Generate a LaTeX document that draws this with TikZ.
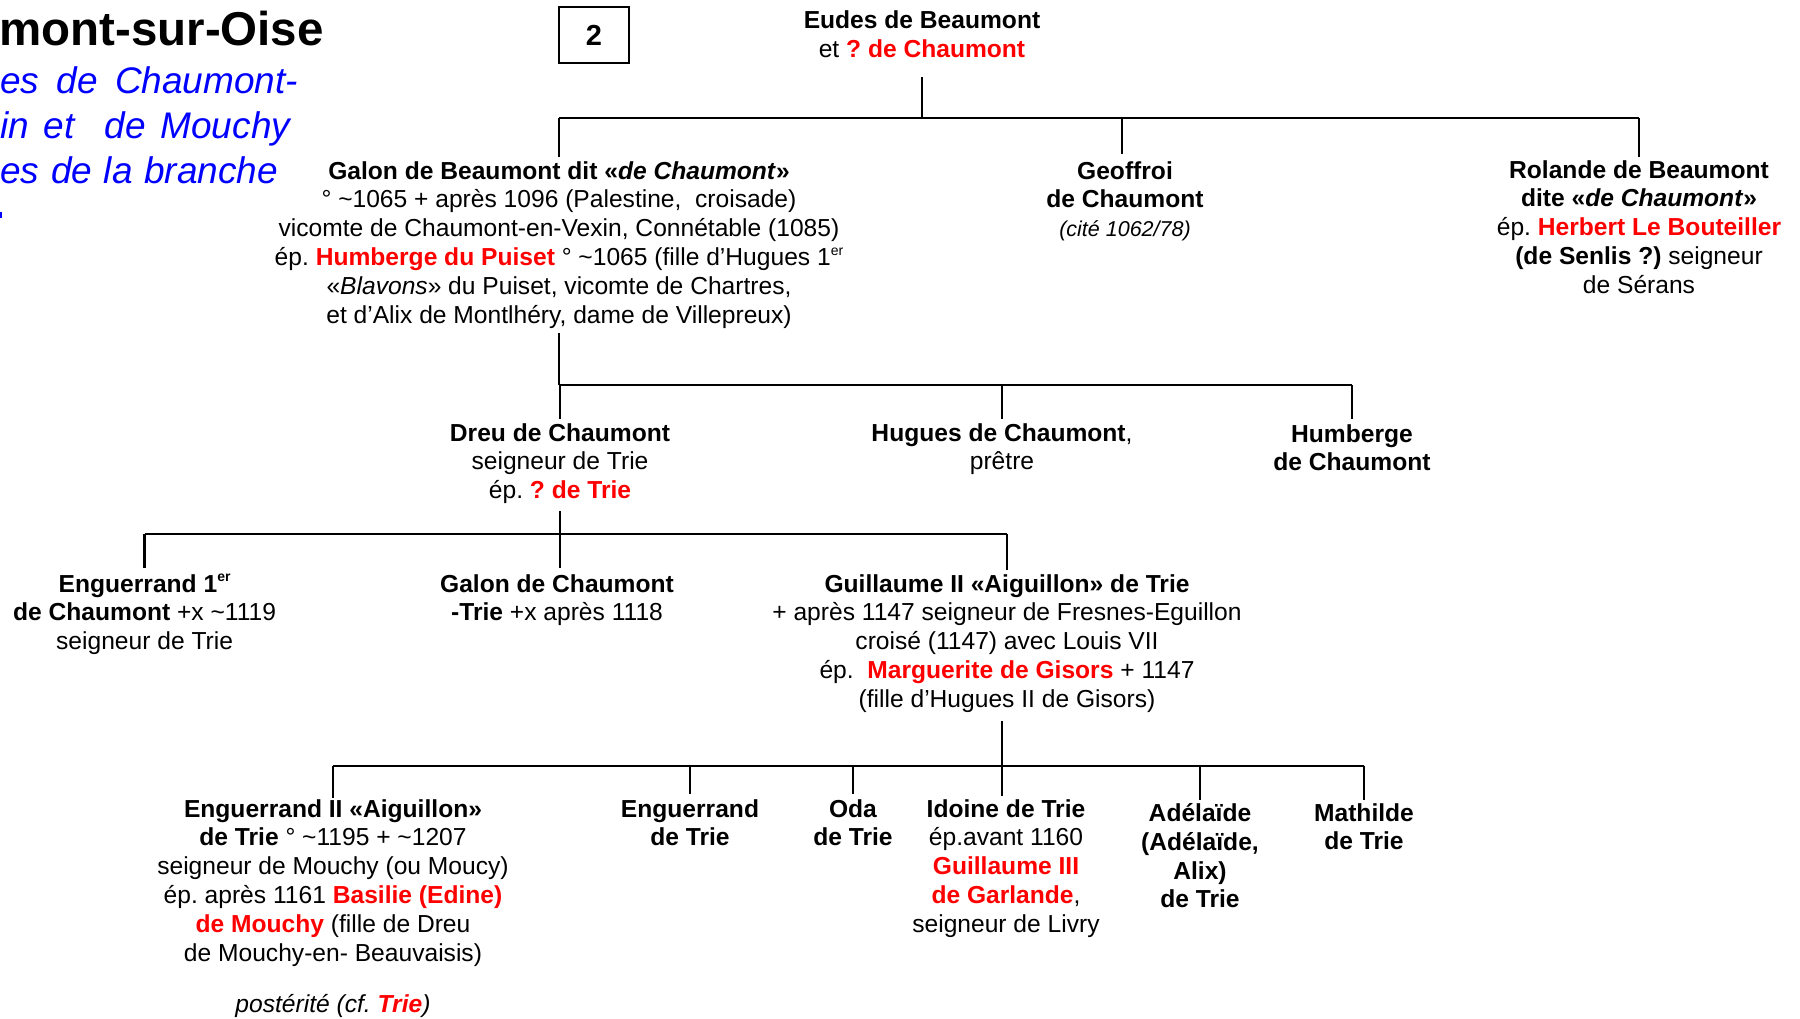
\documentclass[tikz,border=0pt]{standalone}
\usepackage{fontspec}
\setmainfont{Liberation Sans}
\frenchspacing
\newcommand\redb[1]{\textcolor{red}{\textbf{#1}}}
\newcommand\tld{\char"7E\relax}
\newcommand\supr[1]{\raisebox{0.42em}{\fontsize{14}{14}\selectfont #1}}
\newcommand\bodyfont{\fontsize{24.6}{28.9}\selectfont}
\tikzset{
  person/.style={align=center, inner sep=0pt, anchor=north, font=\bodyfont},
  conn/.style={line width=2.4pt, black},
  bluel/.style={anchor=base west, inner sep=0pt, text=blue, font=\fontsize{37}{44}\selectfont\itshape}
}
\begin{document}
\begin{tikzpicture}[x=1pt,y=-1pt]
\useasboundingbox (0,0) rectangle (1800,1018);
\fill[white] (0,0) rectangle (1800,1018);

% title fragments
\node[anchor=west, inner sep=0pt, font=\fontsize{47.5}{50}\selectfont\bfseries] (title) at (-1,29) {mont-sur-Oise};
\node[bluel] (bl1) at (0,93) {\makebox[298pt][s]{es de Chaumont-}};
\node[bluel] (bl2) at (0,138) {\makebox[290pt][s]{in et\ \ de Mouchy}};
\node[bluel] (bl3) at (0,183) {\makebox[278pt][s]{es de la branche}};
\fill[blue] (0,212) rectangle (2,218);

% page number box
\node[draw, line width=1.3pt, minimum width=70pt, minimum height=56pt, inner sep=0pt,
      font=\fontsize{29}{32}\selectfont\bfseries] (num) at (594,35) {2};

% generation 0
\node[person] (eudes) at (922,10.5) {\textbf{Eudes de Beaumont}\\ et \redb{? de Chaumont}};

% generation 1
\node[person] (galon) at (559,161) {\textbf{Galon de Beaumont dit «\textit{de Chaumont}»}\\
° \tld1065 + après 1096 (Palestine,\ \ croisade)\\
vicomte de Chaumont-en-Vexin, Connétable (1085)\\
ép. \redb{Humberge du Puiset} ° \tld1065 (fille d’Hugues 1\supr{er}\\
«\textit{Blavons}» du Puiset, vicomte de Chartres,\\
et d’Alix de Montlhéry, dame de Villepreux)};
\node[person] (geoffroi) at (1125,161) {\textbf{Geoffroi}\\ \textbf{de Chaumont}\\
{\fontsize{21.5}{28.9}\selectfont\itshape (cité 1062/78)}};
\node[person] (rolande) at (1639,160) {\textbf{Rolande de Beaumont}\\
\textbf{dite «\textit{de Chaumont}»}\\
ép. \redb{Herbert Le Bouteiller}\\
\textbf{(de Senlis ?)} seigneur\\
de Sérans};

% generation 2
\node[person] (dreu) at (560,423) {\textbf{Dreu de Chaumont}\\ seigneur de Trie\\ ép. \redb{? de Trie}};
\node[person] (hugues) at (1002,423) {\textbf{Hugues de Chaumont},\\ prêtre};
\node[person] (humberge) at (1352,424) {\textbf{Humberge}\\ \textbf{de Chaumont}};

% generation 3
\node[person] (eng1) at (144.6,574) {\textbf{Enguerrand 1\supr{er}}\\ \textbf{de Chaumont} +x \tld1119\\ seigneur de Trie};
\node[person] (galon2) at (557,574) {\textbf{Galon de Chaumont}\\ \textbf{-Trie} +x après 1118};
\node[person] (guill) at (1007,574) {\textbf{Guillaume II «Aiguillon» de Trie}\\
+ après 1147 seigneur de Fresnes-Eguillon\\
croisé (1147) avec Louis VII\\
ép.\ \ \redb{Marguerite de Gisors} + 1147\\
(fille d’Hugues II de Gisors)};

% generation 4
\node[person] (eng2) at (333,799) {\textbf{Enguerrand II «Aiguillon»}\\
\textbf{de Trie} ° \tld1195 + \tld1207\\
seigneur de Mouchy (ou Moucy)\\
ép. après 1161 \redb{Basilie (Edine)}\\
\redb{de Mouchy} (fille de Dreu\\
de Mouchy-en-\ Beauvaisis)};
\node[person] (post) at (333,994) {\textit{postérité (cf. \textcolor{red}{\textbf{Trie}})}};
\node[person] (engtrie) at (690,799) {\textbf{Enguerrand}\\ \textbf{de Trie}};
\node[person] (oda) at (853,799) {\textbf{Oda}\\ \textbf{de Trie}};
\node[person] (idoine) at (1006,799) {\textbf{Idoine de Trie}\\ ép.avant 1160\\ \redb{Guillaume III}\\ \redb{de Garlande},\\ seigneur de Livry};
\node[person] (adel) at (1200,803) {\textbf{Adélaïde}\\ \textbf{(Adélaïde,}\\ \textbf{Alix)}\\ \textbf{de Trie}};
\node[person] (math) at (1364,803) {\textbf{Mathilde}\\ \textbf{de Trie}};

% bar junctions
\coordinate (b1) at (921,118);
\coordinate (b2) at (559,385);
\coordinate (b3) at (560,534);
\coordinate (b4) at (1002,766);

% family 1
\draw[conn] ([yshift=-19pt]eudes.south) -- (eudes.south |- b1);
\draw[conn] (galon.north |- b1) -- (rolande.north |- b1);
\draw[conn] (galon.north |- b1) -- ([yshift=4pt]galon.north);
\draw[conn] ([xshift=-3pt]geoffroi.north |- b1) -- ([xshift=-3pt,yshift=7pt]geoffroi.north);
\draw[conn] (rolande.north |- b1) -- ([yshift=3pt]rolande.north);

% family 2
\draw[conn] ([yshift=-4pt]galon.south) -- (galon.south |- b2);
\draw[conn] (dreu.north |- b2) -- (humberge.north |- b2);
\draw[conn] (dreu.north |- b2) -- ([yshift=4pt]dreu.north);
\draw[conn] (hugues.north |- b2) -- ([yshift=4pt]hugues.north);
\draw[conn] (humberge.north |- b2) -- ([yshift=5pt]humberge.north);

% family 3
\draw[conn] ([yshift=-7pt]dreu.south) -- (dreu.south |- b3);
\draw[conn] (eng1.north |- b3) -- (guill.north |- b3);
\draw[conn] (eng1.north |- b3) -- ([yshift=6pt]eng1.north);
\draw[conn] (b3) -- ([xshift=3pt,yshift=6pt]galon2.north);
\draw[conn] (guill.north |- b3) -- ([yshift=4pt]guill.north);

% family 4
\draw[conn] ([xshift=-5pt,yshift=-8pt]guill.south) -- (b4);
\draw[conn] (eng2.north |- b4) -- (math.north |- b4);
\draw[conn] (eng2.north |- b4) -- ([yshift=1pt]eng2.north);
\draw[conn] (engtrie.north |- b4) -- ([yshift=5pt]engtrie.north);
\draw[conn] (oda.north |- b4) -- ([yshift=5pt]oda.north);
\draw[conn] (b4) -- ([xshift=-4pt,yshift=3pt]idoine.north);
\draw[conn] (adel.north |- b4) -- ([yshift=3pt]adel.north);
\draw[conn] (math.north |- b4) -- ([yshift=3pt]math.north);
\end{tikzpicture}
\end{document}
